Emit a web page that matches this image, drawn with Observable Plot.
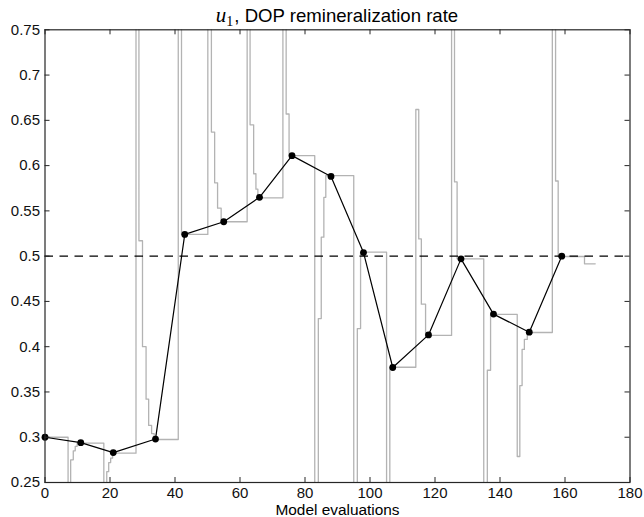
<!DOCTYPE html>
<html>
<head>
<meta charset="utf-8">
<script src="https://cdn.jsdelivr.net/npm/d3@7"></script>
<script src="https://cdn.jsdelivr.net/npm/@observablehq/plot@0.6"></script>
<style>
  body { margin: 0; background: #fff; }
  #chart { position: relative; width: 644px; height: 517px; font-family: "Liberation Sans", Arial, Helvetica, sans-serif; }
  #title { position: absolute; z-index: 1; left: 44.5px; width: 585px; top: 4.5px; text-align: center;
           font-size: 18.6px; line-height: 1; color: #000; white-space: nowrap; }
  #title .u { font-family: "Liberation Serif", "DejaVu Serif", serif; font-style: italic; font-size: 21px; }
  #title .sub { font-family: "Liberation Serif", "DejaVu Serif", serif; font-size: 14px; position: relative; top: 4px; margin-right: 1px; }
</style>
</head>
<body>
<div id="chart">
  <div id="title"><span class="u">u</span><span class="sub">1</span>, DOP remineralization rate</div>
</div>
<script>
// Accepted optimizer iterates: model-evaluation count and u1 value
const iterEval = [0, 11, 21, 34, 43, 55, 66, 76, 88, 98, 107, 118, 128, 138, 149, 159];
const iterU1   = [0.300, 0.294, 0.283, 0.298, 0.524, 0.538, 0.565, 0.611, 0.588, 0.504, 0.377, 0.413, 0.497, 0.436, 0.416, 0.500];

// u1 used by each model evaluation (held until the next change).
// 0.9 and 0.1 are trial values that fall outside the plotted range.
const trialEval = [0, 7.1, 7.9, 8.7, 9.3, 9.9,
                   18.1, 19.0, 19.6, 20.2, 20.8,
                   28.0, 28.9, 30.0, 31.1, 31.9, 32.8, 33.6,
                   41.0, 42.0,
                   50.1, 51.2, 52.2, 53.1, 54.2,
                   62.2, 63.1, 64.2, 64.9, 65.5,
                   73.2, 74.2, 75.1,
                   83.0, 84.1, 85.0, 85.8, 86.4,
                   95.0, 96.1, 97.1,
                   105.1, 106.1,
                   114.1, 115.0, 115.8, 117.1,
                   125.1, 126.0, 126.8,
                   135.0, 136.1, 137.1,
                   145.3, 146.1, 146.8, 147.5, 148.4,
                   156.1, 157.1, 157.9,
                   166.0, 169.3];
const trialU1  = [0.300, 0.1, 0.275, 0.285, 0.290, 0.2934,
                  0.1, 0.262, 0.272, 0.277, 0.2824,
                  0.9, 0.517, 0.400, 0.342, 0.313, 0.304, 0.2975,
                  0.9, 0.524,
                  0.9, 0.637, 0.581, 0.553, 0.538,
                  0.9, 0.645, 0.591, 0.574, 0.5644,
                  0.9, 0.657, 0.611,
                  0.1, 0.431, 0.521, 0.565, 0.589,
                  0.1, 0.420, 0.5044,
                  0.1, 0.3773,
                  0.662, 0.519, 0.447, 0.4124,
                  0.9, 0.582, 0.497,
                  0.1, 0.374, 0.4356,
                  0.2787, 0.357, 0.397, 0.408, 0.4157,
                  0.9, 0.583, 0.4996,
                  0.4915, 0.4915];

// Reference value of u1
const trueU1 = 0.5;

const xTicks = [0, 20, 40, 60, 80, 100, 120, 140, 160, 180];
const yTicks = [0.25, 0.3, 0.35, 0.4, 0.45, 0.5, 0.55, 0.6, 0.65, 0.7, 0.75];
const xLabel = "Model evaluations";

const iters = iterEval.map((e, i) => ({e, u: iterU1[i]}));
const trials = trialEval.map((e, i) => ({e, u: trialU1[i]}));
const yFmt = d => String(+d.toFixed(2));

// Frame geometry
const W = 644, H = 517;
const mL = 44.5, mR = 14.5, mT = 29.3, mB = 35;
const innerW = W - mL - mR, innerH = H - mT - mB;
const tick = 5; // inward tick length, px
const axisColor = "#262626";

const chart = Plot.plot({
  width: W,
  height: H,
  marginLeft: mL,
  marginRight: mR,
  marginTop: mT,
  marginBottom: mB,
  style: {
    fontFamily: '"Liberation Sans", Arial, Helvetica, sans-serif',
    fontSize: "15px",
    color: "#111",
    background: "transparent",
    overflow: "visible"
  },
  x: {domain: [0, 180]},
  y: {domain: [0.25, 0.75]},
  marks: [
    Plot.line(trials, {x: "e", y: "u", curve: "step-after", stroke: "#b3b3b3", strokeWidth: 1.3, clip: true}),
    Plot.ruleY([trueU1], {stroke: "#000", strokeWidth: 1.2, strokeDasharray: "8.5,6.5"}),
    Plot.line(iters, {x: "e", y: "u", stroke: "#000", strokeWidth: 1.2}),
    Plot.dot(iters, {x: "e", y: "u", r: 3.4, fill: "#000", stroke: null}),
    // inward ticks on all four sides
    Plot.ruleX(xTicks, {x: d => d, insetTop: innerH - tick, stroke: axisColor, strokeWidth: 1}),
    Plot.ruleX(xTicks, {x: d => d, insetBottom: innerH - tick, stroke: axisColor, strokeWidth: 1}),
    Plot.ruleY(yTicks, {y: d => d, insetRight: innerW - tick, stroke: axisColor, strokeWidth: 1}),
    Plot.ruleY(yTicks, {y: d => d, insetLeft: innerW - tick, stroke: axisColor, strokeWidth: 1}),
    Plot.frame({stroke: axisColor, strokeWidth: 1.2}),
    Plot.axisX(xTicks, {anchor: "bottom", tickSize: 0, tickPadding: 5, label: null, tickFormat: d => String(d)}),
    Plot.axisY(yTicks, {anchor: "left", tickSize: 0, tickPadding: 5, label: null, tickFormat: yFmt}),
    Plot.text([xLabel], {text: d => d, frameAnchor: "bottom", dy: 32, fontSize: 15.4, fill: "#000"})
  ]
});

document.getElementById("chart").appendChild(chart);
</script>
</body>
</html>
